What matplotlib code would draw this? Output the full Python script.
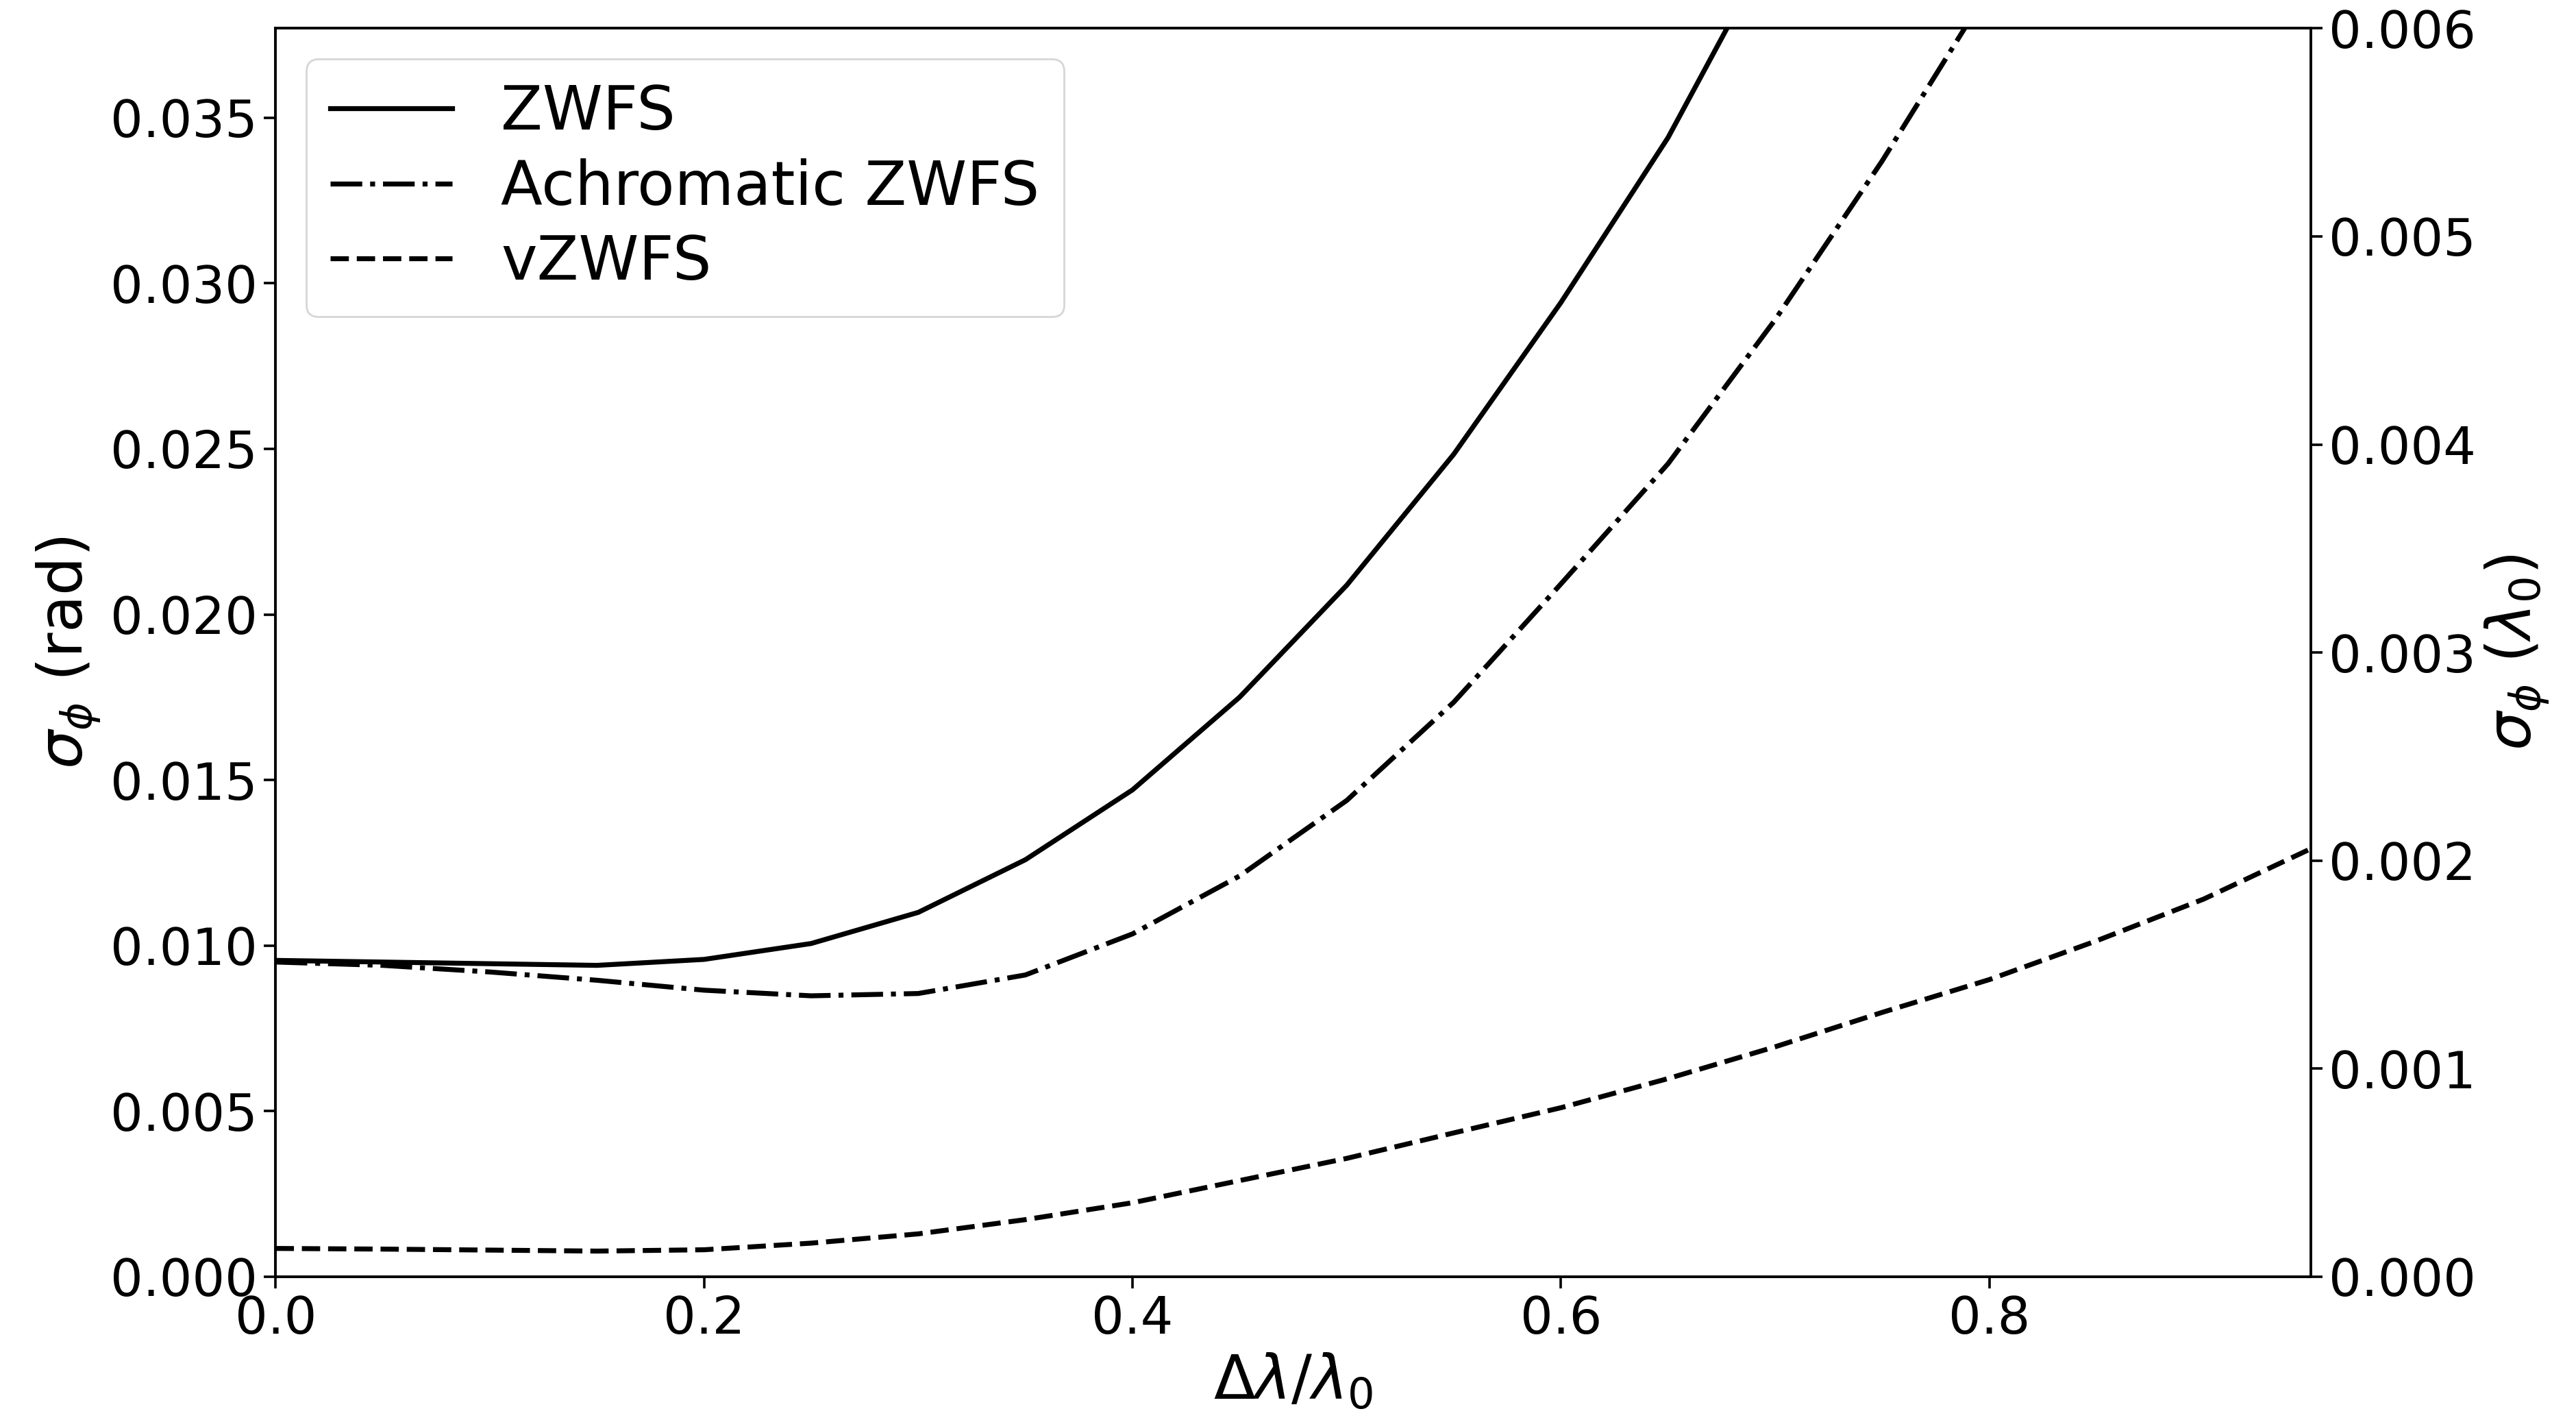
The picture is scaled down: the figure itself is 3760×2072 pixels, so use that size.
import numpy as np
import matplotlib
matplotlib.use("Agg")
import matplotlib.pyplot as plt

# spectral bandwidth (delta lambda / lambda0)
bandwidth = [0.0, 0.05, 0.1, 0.15, 0.2, 0.25, 0.3, 0.35, 0.4, 0.45,
             0.5, 0.55, 0.6, 0.65, 0.7, 0.75, 0.8, 0.85, 0.9, 0.95]

# residual phase error in radians
sigma_zwfs = [0.00955, 0.0095, 0.00945, 0.0094, 0.00958, 0.01006, 0.0110, 0.01259,
              0.01470, 0.0175, 0.02088, 0.02484, 0.02942, 0.03440, 0.0404, 0.0470,
              0.0540, 0.0615, 0.0695, 0.0780]
sigma_achro = [0.0095, 0.0094, 0.0092, 0.00895, 0.00865, 0.00848, 0.00855, 0.00911,
               0.01035, 0.01210, 0.01438, 0.01735, 0.02092, 0.02455, 0.0289, 0.0337,
               0.0389, 0.0445, 0.0505, 0.0570]
sigma_vzwfs = [0.00085, 0.00083, 0.0008, 0.00077, 0.00081, 0.00101, 0.00129, 0.00172,
               0.00223, 0.00290, 0.00357, 0.00434, 0.00510, 0.00598, 0.00694, 0.00798,
               0.00897, 0.01014, 0.01140, 0.01292]

plt.rcParams['font.family'] = 'DejaVu Sans'

fig = plt.figure(figsize=(18.8, 10.36), dpi=200)
ax = fig.add_axes([0.107, 0.101, 0.790, 0.879])

lw = 2.6
ax.plot(bandwidth, sigma_zwfs, 'k-', lw=lw, label='ZWFS')
ax.plot(bandwidth, sigma_achro, 'k-.', lw=lw, label='Achromatic ZWFS')
ax.plot(bandwidth, sigma_vzwfs, 'k--', lw=lw, label='vZWFS')

ymax_wave = 0.006
ax.set_xlim(0, 0.95)
ax.set_ylim(0, ymax_wave * 2 * np.pi)
ax.set_xlabel(r'$\Delta\lambda/\lambda_0$', fontsize=32)
ax.set_ylabel(r'$\sigma_\phi$ (rad)', fontsize=32)

# same error expressed in fractions of the central wavelength
ax2 = ax.twinx()
ax2.set_ylim(0, ymax_wave)
ax2.set_ylabel(r'$\sigma_\phi$ ($\lambda_0$)', fontsize=32)

for a in (ax, ax2):
    a.tick_params(labelsize=27, length=6, width=1.3)
    for s in a.spines.values():
        s.set_linewidth(1.3)

ax.legend(loc='upper left', fontsize=32, borderaxespad=0.5, labelspacing=0.25)

fig.savefig('out.png', dpi=200)
